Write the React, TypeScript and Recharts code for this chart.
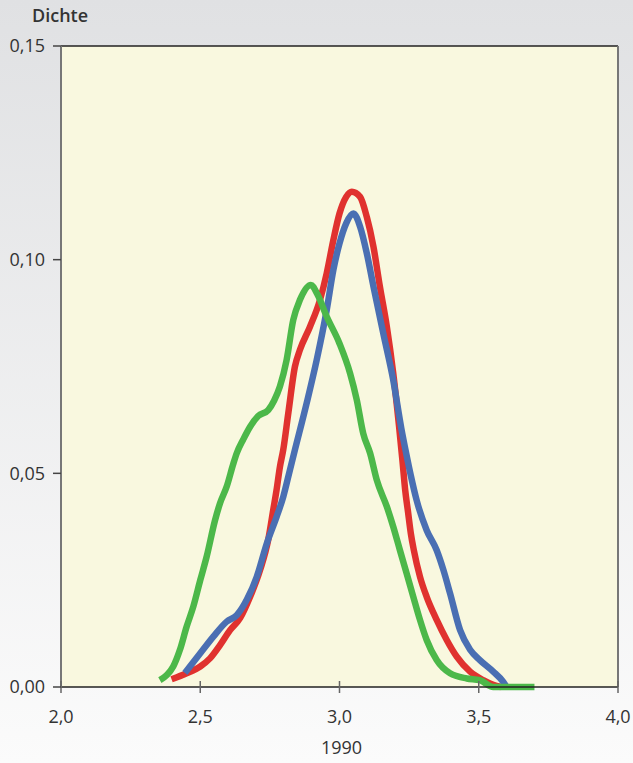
import React from 'react';
import { LineChart, Line, XAxis, YAxis, CartesianGrid, ReferenceLine } from 'recharts';

// density curves (x = value, y = density)
const redCurve = [
  { x: 2.397, y: 0.0018 }, { x: 2.451, y: 0.0032 }, { x: 2.5, y: 0.0048 }, { x: 2.535, y: 0.0067 },
  { x: 2.571, y: 0.0098 }, { x: 2.607, y: 0.0133 }, { x: 2.643, y: 0.0161 }, { x: 2.679, y: 0.0211 },
  { x: 2.715, y: 0.0274 }, { x: 2.744, y: 0.0344 }, { x: 2.762, y: 0.0414 }, { x: 2.774, y: 0.0461 },
  { x: 2.786, y: 0.0515 }, { x: 2.798, y: 0.0555 }, { x: 2.816, y: 0.064 }, { x: 2.84, y: 0.075 },
  { x: 2.858, y: 0.0789 }, { x: 2.894, y: 0.0843 }, { x: 2.93, y: 0.0906 }, { x: 2.954, y: 0.0968 },
  { x: 2.978, y: 0.1046 }, { x: 3.0, y: 0.1108 }, { x: 3.024, y: 0.1147 }, { x: 3.044, y: 0.1159 },
  { x: 3.074, y: 0.1147 }, { x: 3.098, y: 0.11 }, { x: 3.122, y: 0.103 }, { x: 3.145, y: 0.0937 },
  { x: 3.17, y: 0.0843 }, { x: 3.193, y: 0.0734 }, { x: 3.214, y: 0.0609 }, { x: 3.226, y: 0.053 },
  { x: 3.236, y: 0.046 }, { x: 3.246, y: 0.041 }, { x: 3.256, y: 0.036 }, { x: 3.267, y: 0.032 },
  { x: 3.289, y: 0.0258 }, { x: 3.313, y: 0.0211 }, { x: 3.349, y: 0.0157 }, { x: 3.385, y: 0.011 },
  { x: 3.421, y: 0.0071 }, { x: 3.469, y: 0.0036 }, { x: 3.516, y: 0.0016 }, { x: 3.552, y: 0.0005 },
  { x: 3.58, y: 0 },
];

const blueCurve = [
  { x: 2.445, y: 0.0033 }, { x: 2.5, y: 0.0079 }, { x: 2.547, y: 0.0118 }, { x: 2.595, y: 0.0153 },
  { x: 2.631, y: 0.0168 }, { x: 2.667, y: 0.0204 }, { x: 2.703, y: 0.0258 }, { x: 2.739, y: 0.0336 },
  { x: 2.774, y: 0.0398 }, { x: 2.798, y: 0.0445 }, { x: 2.822, y: 0.0508 }, { x: 2.84, y: 0.0555 },
  { x: 2.882, y: 0.0664 }, { x: 2.918, y: 0.0765 }, { x: 2.954, y: 0.0882 }, { x: 2.978, y: 0.0976 },
  { x: 3.0, y: 0.1038 }, { x: 3.024, y: 0.1085 }, { x: 3.05, y: 0.1108 }, { x: 3.074, y: 0.1077 },
  { x: 3.098, y: 0.1015 }, { x: 3.122, y: 0.0937 }, { x: 3.157, y: 0.0828 }, { x: 3.193, y: 0.0718 },
  { x: 3.222, y: 0.0605 }, { x: 3.24, y: 0.0545 }, { x: 3.256, y: 0.0495 }, { x: 3.277, y: 0.0437 },
  { x: 3.313, y: 0.0367 }, { x: 3.349, y: 0.032 }, { x: 3.373, y: 0.0274 }, { x: 3.397, y: 0.0219 },
  { x: 3.433, y: 0.0133 }, { x: 3.469, y: 0.0087 }, { x: 3.504, y: 0.0063 }, { x: 3.552, y: 0.0036 },
  { x: 3.588, y: 0.0012 }, { x: 3.6, y: 0 },
];

const greenCurve = [
  { x: 2.355, y: 0.0016 }, { x: 2.38, y: 0.0028 }, { x: 2.403, y: 0.0048 }, { x: 2.427, y: 0.0087 },
  { x: 2.451, y: 0.0141 }, { x: 2.475, y: 0.0188 }, { x: 2.5, y: 0.025 }, { x: 2.523, y: 0.0305 },
  { x: 2.553, y: 0.039 }, { x: 2.571, y: 0.043 }, { x: 2.595, y: 0.0469 }, { x: 2.619, y: 0.0523 },
  { x: 2.631, y: 0.0547 }, { x: 2.655, y: 0.058 }, { x: 2.679, y: 0.0609 }, { x: 2.708, y: 0.0634 },
  { x: 2.744, y: 0.0648 }, { x: 2.765, y: 0.067 }, { x: 2.786, y: 0.0703 }, { x: 2.81, y: 0.0765 },
  { x: 2.834, y: 0.0859 }, { x: 2.858, y: 0.0906 }, { x: 2.897, y: 0.0941 }, { x: 2.92, y: 0.092 },
  { x: 2.954, y: 0.0867 }, { x: 3.0, y: 0.0804 }, { x: 3.038, y: 0.0734 }, { x: 3.062, y: 0.0672 },
  { x: 3.085, y: 0.0594 }, { x: 3.11, y: 0.0547 }, { x: 3.134, y: 0.0484 }, { x: 3.17, y: 0.0422 },
  { x: 3.193, y: 0.0375 }, { x: 3.217, y: 0.032 }, { x: 3.241, y: 0.0266 }, { x: 3.265, y: 0.0211 },
  { x: 3.289, y: 0.0157 }, { x: 3.313, y: 0.011 }, { x: 3.349, y: 0.0063 }, { x: 3.397, y: 0.0032 },
  { x: 3.457, y: 0.002 }, { x: 3.504, y: 0.0016 }, { x: 3.552, y: 0 }, { x: 3.7, y: 0 },
];

const xTicks = [2, 2.5, 3, 3.5, 4];
const yTicks = [0, 0.05, 0.1, 0.15];

const FONT = '"Open Sans", sans-serif';
const TEXT = '#333';

const XTick = ({ x, y, payload }: any) => (
  <g>
    <line x1={x} x2={x} y1={y - 6} y2={y + 6} stroke="#666" strokeWidth={1.5} />
    <text x={x} y={y + 36} textAnchor="middle" fill={TEXT} fontSize={18} fontFamily={FONT}>
      {payload.value.toFixed(1).replace('.', ',')}
    </text>
  </g>
);

const YTick = ({ x, y, payload }: any) => (
  <g>
    <line x1={x - 8} x2={x} y1={y} y2={y} stroke="#444" strokeWidth={1.5} />
    <text x={x - 16} y={y} dy="0.35em" textAnchor="end" fill={TEXT} fontSize={18} fontFamily={FONT}>
      {payload.value.toFixed(2).replace('.', ',')}
    </text>
  </g>
);

export default function App() {
  return (
    <div
      style={{
        position: 'absolute',
        left: 0,
        top: 0,
        width: 633,
        height: 763,
        overflow: 'hidden',
        background: 'linear-gradient(#e0e1e3, #fbfbfb)',
        fontFamily: FONT,
      }}
    >
      <div style={{ position: 'absolute', left: 32, top: 3, fontSize: 18, fontWeight: 600, color: TEXT }}>Dichte</div>
      <div style={{ position: 'absolute', left: 0, width: 683, top: 735, textAlign: 'center', fontSize: 18, color: TEXT }}>
        1990
      </div>
      <LineChart width={633} height={763} margin={{ top: 46, right: 15, bottom: 0, left: 0 }}>
        <CartesianGrid horizontal={false} vertical={false} fill="#f9f8df" fillOpacity={1} stroke="none" />
        <XAxis
          type="number"
          dataKey="x"
          domain={[2, 4]}
          ticks={xTicks}
          allowDuplicatedCategory={false}
          height={76}
          tickSize={0}
          tickMargin={0}
          tickLine={false}
          axisLine={{ stroke: '#222', strokeWidth: 1.5 }}
          tick={<XTick />}
          interval={0}
        />
        <YAxis
          type="number"
          domain={[0, 0.15]}
          ticks={yTicks}
          width={61}
          tickSize={0}
          tickMargin={0}
          tickLine={false}
          axisLine={{ stroke: '#777', strokeWidth: 2 }}
          tick={<YTick />}
          interval={0}
        />
        <ReferenceLine y={0.15} stroke="#222" strokeWidth={1.5} />
        <ReferenceLine x={4} stroke="#777" strokeWidth={2} />
        <Line data={redCurve} dataKey="y" type="monotone" stroke="#e0322f" strokeWidth={6.5} dot={false} isAnimationActive={false} />
        <Line data={blueCurve} dataKey="y" type="monotone" stroke="#4a6fb3" strokeWidth={6.5} dot={false} isAnimationActive={false} />
        <Line data={greenCurve} dataKey="y" type="monotone" stroke="#4cb849" strokeWidth={6.5} dot={false} isAnimationActive={false} />
      </LineChart>
    </div>
  );
}
